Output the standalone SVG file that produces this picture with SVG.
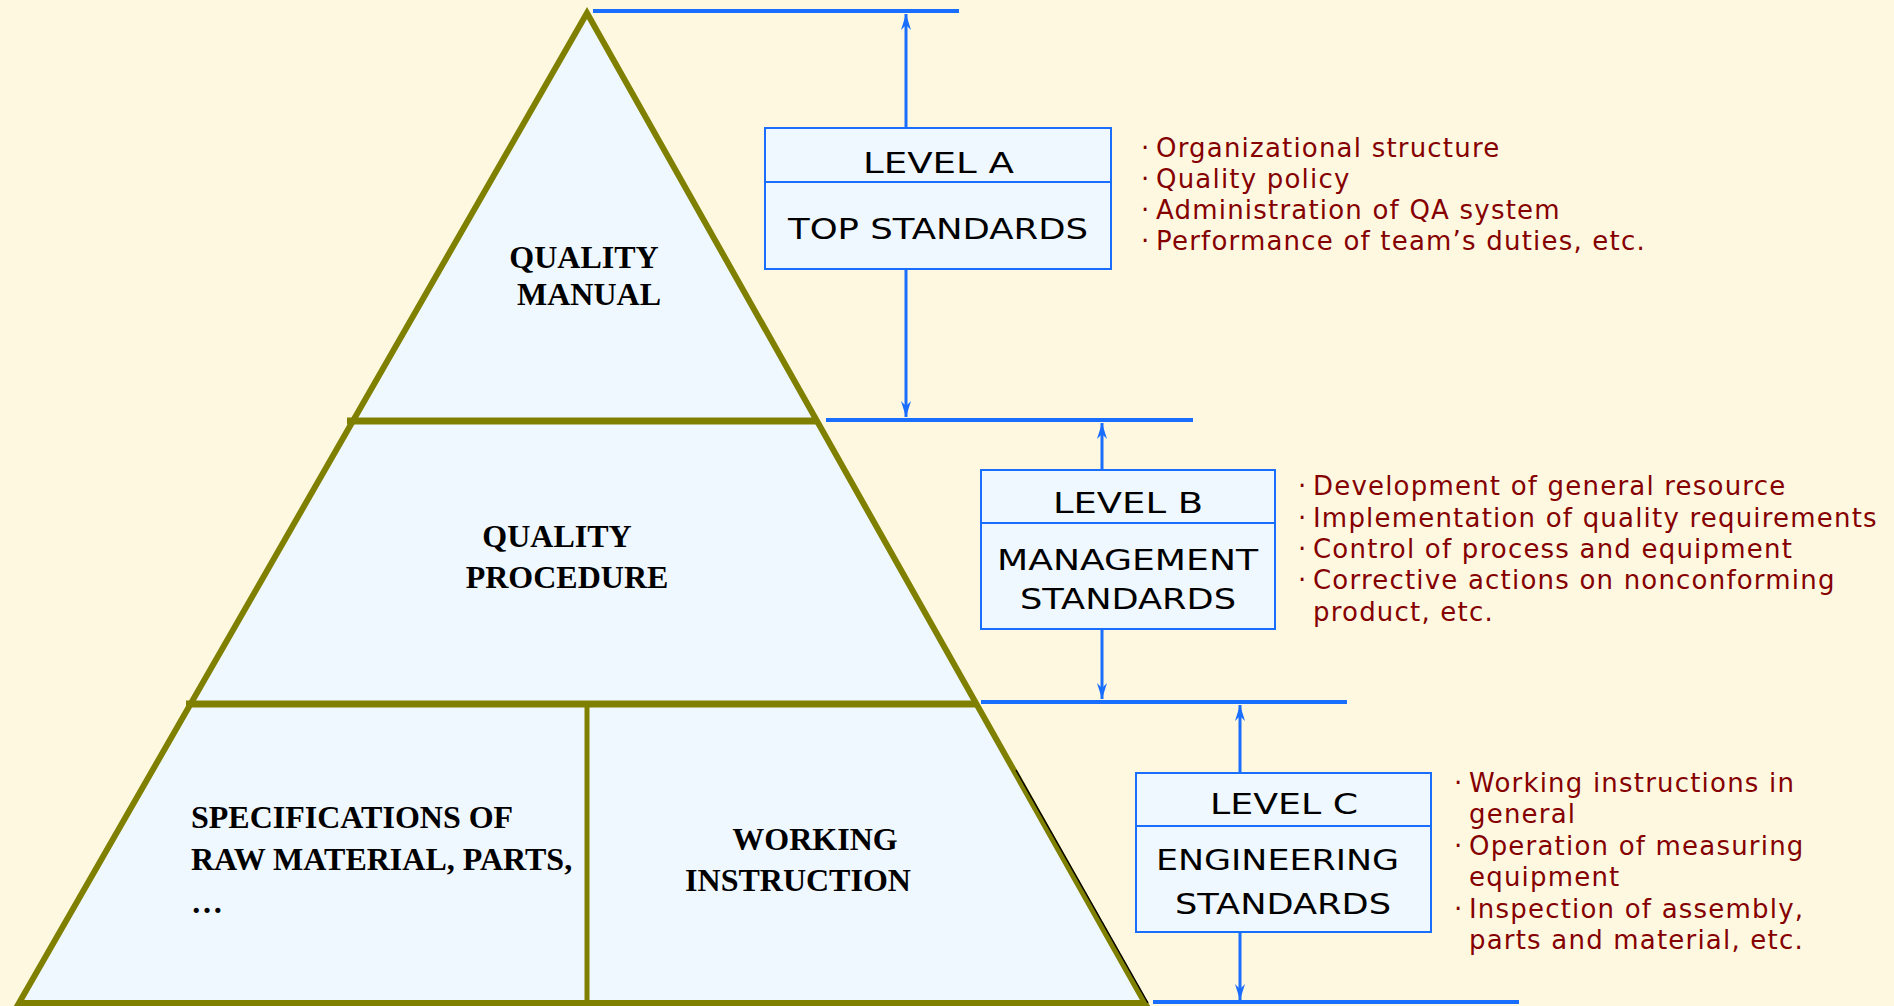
<svg xmlns="http://www.w3.org/2000/svg" width="1894" height="1006" viewBox="0 0 1894 1006">
<style>
.olive{stroke:#808000;fill:none}
.tri{font-family:"Liberation Serif","Times New Roman",serif;font-weight:bold;font-size:32px;fill:#000}
.box{fill:#F0F8FF;stroke:#1A6EFF;stroke-width:2}
.bt{font-family:"DejaVu Sans","Liberation Sans",sans-serif;font-size:28px;fill:#000;font-weight:normal}
.bl{font-family:"DejaVu Sans","Liberation Sans",sans-serif;font-size:26px;fill:#850000;letter-spacing:1.2px}
.hl{stroke:#1A6EFF;stroke-width:4;fill:none}
.ar{stroke:#1A6EFF;stroke-width:3;fill:none;marker-end:url(#ah)}
</style>
<defs>
<marker id="ah" markerUnits="userSpaceOnUse" viewBox="-16 -6 17 12" refX="0" refY="0" markerWidth="17" markerHeight="12" orient="auto">
<path d="M0,0 L-16,-5 L-11,0 L-16,5 Z" fill="#1A6EFF"/>
</marker>
</defs>
<rect x="0" y="0" width="1894" height="1006" fill="#FFF8E0"/>

<g id="pyramid">
<polygon points="587,13 19,1003 1145,1003" fill="#F0F8FF" stroke="#808000" stroke-width="6" stroke-linejoin="miter"/>
<line x1="1016" y1="770" x2="1148" y2="1003" stroke="#000" stroke-width="1.5"/>
<line class="olive" x1="347" y1="421" x2="817" y2="421" stroke-width="7"/>
<line class="olive" x1="186" y1="704" x2="976" y2="704" stroke-width="7"/>
<line class="olive" x1="587" y1="704" x2="587" y2="1003" stroke-width="5"/>
</g>

<g id="quality-manual">
<text class="tri" x="584" y="268" text-anchor="middle">QUALITY</text>
<text class="tri" x="589" y="305" text-anchor="middle">MANUAL</text>
</g>
<g id="quality-procedure">
<text class="tri" x="557" y="547" text-anchor="middle">QUALITY</text>
<text class="tri" x="567" y="588" text-anchor="middle">PROCEDURE</text>
</g>
<g id="specifications">
<text class="tri" x="191" y="828">SPECIFICATIONS OF</text>
<text class="tri" x="191" y="870">RAW MATERIAL, PARTS,</text>
<text class="tri" x="191" y="913">…</text>
</g>
<g id="working-instruction">
<text class="tri" x="815" y="850" text-anchor="middle">WORKING</text>
<text class="tri" x="798" y="891" text-anchor="middle">INSTRUCTION</text>
</g>

<g id="connectors">
<line class="hl" x1="593" y1="11" x2="959" y2="11"/>
<line class="hl" x1="826" y1="420" x2="1193" y2="420"/>
<line class="hl" x1="981" y1="702" x2="1347" y2="702"/>
<line class="hl" x1="1153" y1="1002" x2="1519" y2="1002"/>
<line class="ar" x1="906" y1="128" x2="906" y2="14"/>
<line class="ar" x1="906" y1="270" x2="906" y2="417"/>
<line class="ar" x1="1102" y1="470" x2="1102" y2="423"/>
<line class="ar" x1="1102" y1="629" x2="1102" y2="699"/>
<line class="ar" x1="1240" y1="773" x2="1240" y2="705"/>
<line class="ar" x1="1240" y1="932" x2="1240" y2="1000"/>
</g>

<g id="level-a">
<rect class="box" x="765" y="128" width="346" height="141"/>
<line class="box" x1="765" y1="182" x2="1111" y2="182"/>
<text class="bt" x="863" y="173" textLength="151" lengthAdjust="spacingAndGlyphs">LEVEL A</text>
<text class="bt" x="788" y="239" textLength="300" lengthAdjust="spacingAndGlyphs">TOP STANDARDS</text>
</g>
<g id="level-b">
<rect class="box" x="981" y="470" width="294" height="159"/>
<line class="box" x1="981" y1="523" x2="1275" y2="523"/>
<text class="bt" x="1053" y="513" textLength="150" lengthAdjust="spacingAndGlyphs">LEVEL B</text>
<text class="bt" x="997" y="570" textLength="261" lengthAdjust="spacingAndGlyphs">MANAGEMENT</text>
<text class="bt" x="1020" y="609" textLength="216" lengthAdjust="spacingAndGlyphs">STANDARDS</text>
</g>
<g id="level-c">
<rect class="box" x="1136" y="773" width="295" height="159"/>
<line class="box" x1="1136" y1="826" x2="1431" y2="826"/>
<text class="bt" x="1210" y="814" textLength="148" lengthAdjust="spacingAndGlyphs">LEVEL C</text>
<text class="bt" x="1156" y="870" textLength="243" lengthAdjust="spacingAndGlyphs">ENGINEERING</text>
<text class="bt" x="1175" y="914" textLength="216" lengthAdjust="spacingAndGlyphs">STANDARDS</text>
</g>

<g id="bullets-a">
<text class="bl" y="157"><tspan x="1141">·</tspan><tspan x="1156">Organizational structure</tspan></text>
<text class="bl" y="188"><tspan x="1141">·</tspan><tspan x="1156">Quality policy</tspan></text>
<text class="bl" y="219"><tspan x="1141">·</tspan><tspan x="1156">Administration of QA system</tspan></text>
<text class="bl" y="250"><tspan x="1141">·</tspan><tspan x="1156">Performance of team’s duties, etc.</tspan></text>
</g>
<g id="bullets-b">
<text class="bl" y="495"><tspan x="1298">·</tspan><tspan x="1313">Development of general resource</tspan></text>
<text class="bl" y="527"><tspan x="1298">·</tspan><tspan x="1313">Implementation of quality requirements</tspan></text>
<text class="bl" y="558"><tspan x="1298">·</tspan><tspan x="1313">Control of process and equipment</tspan></text>
<text class="bl" y="589"><tspan x="1298">·</tspan><tspan x="1313">Corrective actions on nonconforming</tspan></text>
<text class="bl" x="1313" y="621">product, etc.</text>
</g>
<g id="bullets-c">
<text class="bl" y="792"><tspan x="1454">·</tspan><tspan x="1469">Working instructions in</tspan></text>
<text class="bl" x="1469" y="823">general</text>
<text class="bl" y="855"><tspan x="1454">·</tspan><tspan x="1469">Operation of measuring</tspan></text>
<text class="bl" x="1469" y="886">equipment</text>
<text class="bl" y="918"><tspan x="1454">·</tspan><tspan x="1469">Inspection of assembly,</tspan></text>
<text class="bl" x="1469" y="949">parts and material, etc.</text>
</g>
</svg>
